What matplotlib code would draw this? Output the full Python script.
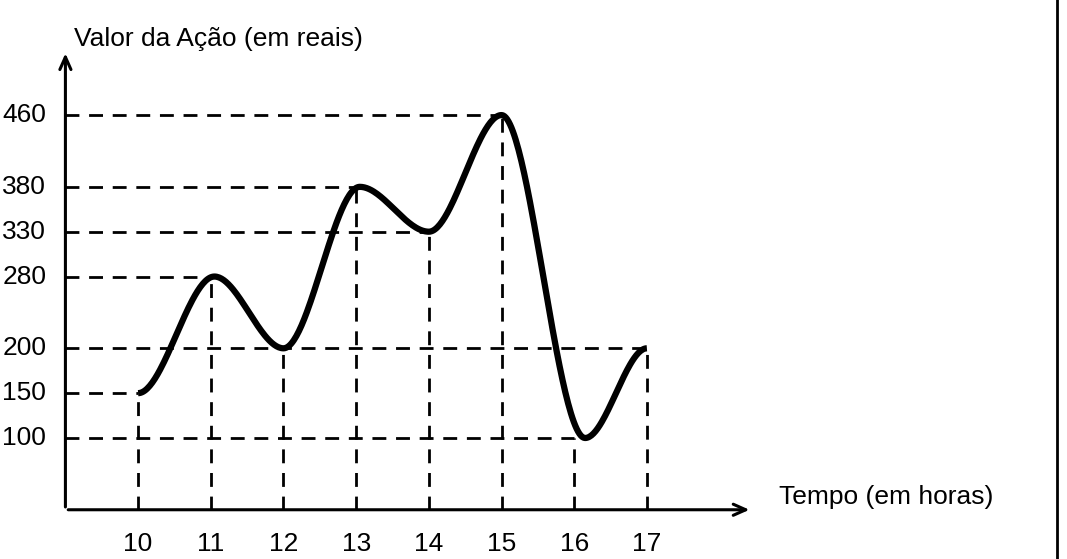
import numpy as np
import matplotlib.pyplot as plt

plt.rcParams['font.family'] = ['Liberation Sans', 'DejaVu Sans']

hours = [10, 11, 12, 13, 14, 15, 16, 17]
values = [150, 280, 200, 380, 330, 460, 100, 200]
# slight offsets of the curve's extremes as drawn
curve_x = [10, 11.05, 12.0, 13.05, 14.0, 15.0, 16.15, 17]
y_ticks = [100, 150, 200, 280, 330, 380, 460]

fig = plt.figure(figsize=(10.67, 5.59), dpi=100)
ax = fig.add_axes([0, 0, 1, 1])
ax.set_xlim(8.10, 22.78)
ax.set_ylim(-34.9, 588.3)
ax.axis('off')

x0, y0 = 9.0, 20  # axis origin

# axes with arrows
ax.annotate('', xy=(18.45, y0), xytext=(x0, y0),
            arrowprops=dict(arrowstyle='->,head_width=0.4,head_length=0.9', lw=2.2, color='black'))
ax.annotate('', xy=(x0, 532), xytext=(x0, y0),
            arrowprops=dict(arrowstyle='->,head_width=0.4,head_length=0.9', lw=2.2, color='black'))

dash = dict(color='black', lw=2, linestyle=(0, (5, 3.5)))
# vertical guides
for h, v in zip(hours, values):
    ax.plot([h, h], [y0, v], **dash)
# horizontal guides: extend to the farthest hour with that value
for v in sorted(set(values)):
    hx = max(h for h, vv in zip(hours, values) if vv == v)
    ax.plot([x0, hx], [v, v], **dash)

# smooth curve: smoothstep between consecutive extremes
xs, ys = [], []
for i in range(len(curve_x) - 1):
    t = np.linspace(0, 1, 60)
    s = 3 * t**2 - 2 * t**3
    xs.append(curve_x[i] + (curve_x[i + 1] - curve_x[i]) * t)
    ys.append(values[i] + (values[i + 1] - values[i]) * s)
ax.plot(np.concatenate(xs), np.concatenate(ys), color='black', lw=4.5,
        solid_capstyle='butt', zorder=5)

for h in hours:
    ax.text(h, -5, str(h), ha='center', va='top', fontsize=19)
for v in y_ticks:
    ax.text(8.13, v, str(v), ha='left', va='center', fontsize=19)

ax.text(9.12, 545, 'Valor da Ação (em reais)', ha='left', va='center', fontsize=19)
ax.text(18.82, 34, 'Tempo (em horas)', ha='left', va='center', fontsize=19)

ax.plot([0.991, 0.991], [0, 1], transform=ax.transAxes, color='black', lw=2)

fig.savefig('out.png', dpi=100)
